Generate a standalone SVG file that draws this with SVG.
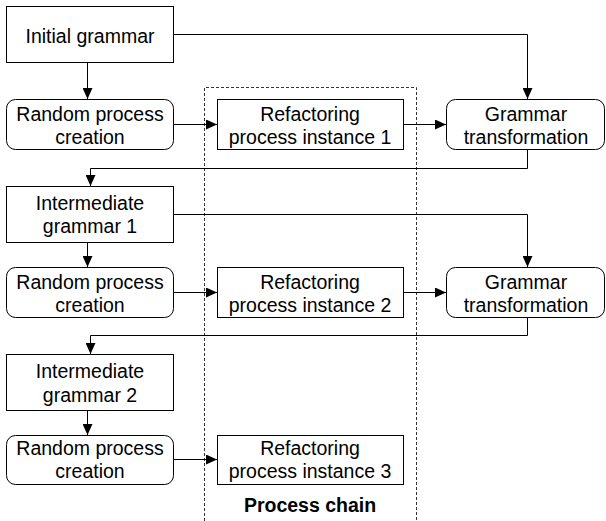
<svg xmlns="http://www.w3.org/2000/svg" width="606" height="521" viewBox="0 0 606 521">
<style>
.box{fill:#fff;stroke:#000;stroke-width:1}
.t{font-family:"Liberation Sans",Arial,sans-serif;font-size:19.5px;fill:#000;text-anchor:middle}
.b{font-weight:bold}
.c{fill:none;stroke:#000;stroke-width:1}
.d{fill:none;stroke:#333;stroke-width:1;stroke-dasharray:3 2}
</style>
<defs>
<marker id="ah" markerUnits="userSpaceOnUse" markerWidth="11" markerHeight="10" refX="11" refY="5" orient="auto">
<path d="M0,0 L11,5 L0,10 z" fill="#000"/>
</marker>
</defs>
<g id="chain">
<path class="d" d="M204.5,521 V87.5 H416.5 V521"/>
<text class="t b" x="310" y="512">Process chain</text>
</g>
<g id="connectors">
<path class="c" d="M87.5,62 V99" marker-end="url(#ah)"/>
<path class="c" d="M173,34.5 H527.5 V99" marker-end="url(#ah)"/>
<path class="c" d="M174,124.5 H217" marker-end="url(#ah)"/>
<path class="c" d="M403,124.5 H446" marker-end="url(#ah)"/>
<path class="c" d="M527.5,149 V168.5 H90.5 V186" marker-end="url(#ah)"/>
<path class="c" d="M87.5,242 V267" marker-end="url(#ah)"/>
<path class="c" d="M173,214.5 H527.5 V267" marker-end="url(#ah)"/>
<path class="c" d="M174,292.5 H217" marker-end="url(#ah)"/>
<path class="c" d="M403,292.5 H446" marker-end="url(#ah)"/>
<path class="c" d="M527.5,317 V335.5 H90.5 V354" marker-end="url(#ah)"/>
<path class="c" d="M87.5,410 V435" marker-end="url(#ah)"/>
<path class="c" d="M174,459.5 H217" marker-end="url(#ah)"/>
</g>
<g id="initial">
<rect class="box" x="6.5" y="6.5" width="167" height="56"/>
<text class="t" x="90" y="43">Initial grammar</text>
</g>
<g id="random1">
<rect class="box" x="6.5" y="99.5" width="167" height="50" rx="9"/>
<text class="t" x="90" y="120.5">Random process</text>
<text class="t" x="90" y="143.5">creation</text>
</g>
<g id="refactor1">
<rect class="box" x="217.5" y="99.5" width="186" height="50"/>
<text class="t" x="310" y="120.5">Refactoring</text>
<text class="t" x="310" y="143.5">process instance 1</text>
</g>
<g id="transform1">
<rect class="box" x="446.5" y="99.5" width="158" height="50" rx="9"/>
<text class="t" x="526" y="120.5">Grammar</text>
<text class="t" x="526" y="143.5">transformation</text>
</g>
<g id="intermediate1">
<rect class="box" x="6.5" y="186.5" width="167" height="56"/>
<text class="t" x="90" y="210">Intermediate</text>
<text class="t" x="90" y="233">grammar 1</text>
</g>
<g id="random2">
<rect class="box" x="6.5" y="267.5" width="167" height="50" rx="9"/>
<text class="t" x="90" y="288.5">Random process</text>
<text class="t" x="90" y="311.5">creation</text>
</g>
<g id="refactor2">
<rect class="box" x="217.5" y="267.5" width="186" height="50"/>
<text class="t" x="310" y="288.5">Refactoring</text>
<text class="t" x="310" y="311.5">process instance 2</text>
</g>
<g id="transform2">
<rect class="box" x="446.5" y="267.5" width="158" height="50" rx="9"/>
<text class="t" x="526" y="288.5">Grammar</text>
<text class="t" x="526" y="311.5">transformation</text>
</g>
<g id="intermediate2">
<rect class="box" x="6.5" y="354.5" width="167" height="56"/>
<text class="t" x="90" y="378">Intermediate</text>
<text class="t" x="90" y="401.5">grammar 2</text>
</g>
<g id="random3">
<rect class="box" x="6.5" y="435.5" width="167" height="49" rx="9"/>
<text class="t" x="90" y="455">Random process</text>
<text class="t" x="90" y="478">creation</text>
</g>
<g id="refactor3">
<rect class="box" x="217.5" y="435.5" width="186" height="49"/>
<text class="t" x="310" y="455">Refactoring</text>
<text class="t" x="310" y="478">process instance 3</text>
</g>
</svg>
